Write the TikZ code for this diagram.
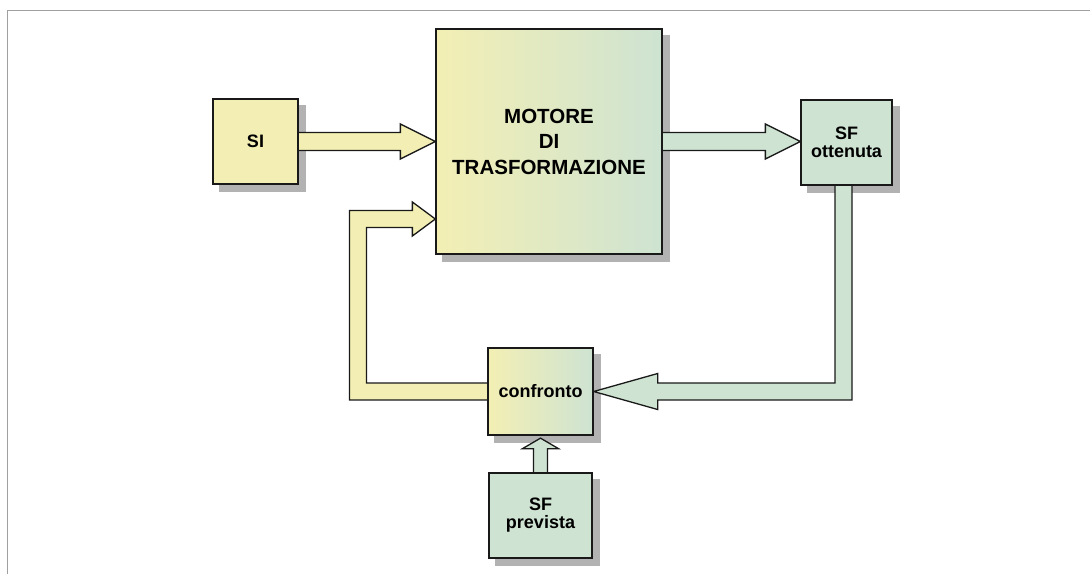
\documentclass[tikz,border=0pt]{standalone}
\usepackage{fontspec}
\setmainfont{Liberation Sans}
\usetikzlibrary{calc}
\definecolor{yelc}{RGB}{243,239,180}
\definecolor{grnc}{RGB}{206,227,210}
\definecolor{shadc}{RGB}{178,178,178}
\definecolor{linec}{RGB}{25,25,25}
\definecolor{framec}{RGB}{160,160,160}
\pgfdeclarelayer{shadowlayer}
\pgfdeclarelayer{arrowlayer}
\pgfsetlayers{shadowlayer,arrowlayer,main}
\tikzset{
  box/.style={draw=linec, line width=1.3pt, inner sep=0pt, align=center,
    font=\bfseries\fontsize{18}{18}\selectfont},
  bigtext/.style={font=\bfseries\fontsize{20.5}{25.5}\selectfont},
  fatY/.style={draw=linec, line width=1.3pt, fill=yelc, line join=miter},
  fatG/.style={draw=linec, line width=1.3pt, fill=grnc, line join=miter},
  grad/.style={shading=axis, left color=yelc, right color=grnc, shading angle=90}
}
\begin{document}
\begin{tikzpicture}[x=1pt,y=-1pt]
\useasboundingbox (0,0) rectangle (1090,574);
\draw[framec, line width=1.5pt] (7.5,574) -- (7.5,10.5) -- (1090,10.5);

\node[box, fill=yelc, minimum width=85pt, minimum height=85pt] (SI) at (255.5,141.5) {SI};
\node[box, bigtext, left color=yelc, right color=grnc, minimum width=226pt, minimum height=225pt] (main) at (549,141.5) {MOTORE\\DI\\TRASFORMAZIONE};
\node[box, fill=grnc, minimum width=91pt, minimum height=85pt] (SFo) at (846.5,142.5) {SF\\ottenuta};
\node[box, left color=yelc, right color=grnc, minimum width=105pt, minimum height=87pt] (conf) at (540.5,391.5) {confronto};
\node[box, fill=grnc, minimum width=103pt, minimum height=85pt] (SFp) at (540.5,515.5) {SF\\prevista};

\begin{pgfonlayer}{shadowlayer}
\foreach \n in {SI,main,SFo,conf,SFp}
  \fill[shadc] ($(\n.south west)+(7,7)$) rectangle ($(\n.north east)+(7,7)$);
\end{pgfonlayer}

\coordinate (t1) at (main.west);
\coordinate (t2) at (SFo.west |- main.east);
\coordinate (ytip) at ($(main.west)+(0,77.5)$);
\coordinate (yc) at (358,391.5);
\coordinate (gc) at (843.5,391.5);
\coordinate (ptip) at ($(conf.south)+(0,2.5)$);

\begin{pgfonlayer}{arrowlayer}
% SI -> motore
\filldraw[fatY] ($(SI.east)+(-1,-9)$) -- ($(t1)+(-35,-9)$) -- ($(t1)+(-35,-17.5)$) -- (t1)
  -- ($(t1)+(-35,17.5)$) -- ($(t1)+(-35,9)$) -- ($(SI.east)+(-1,9)$);
% motore -> SF ottenuta
\filldraw[fatG] ($(main.east)+(-1,-9)$) -- ($(t2)+(-35,-9)$) -- ($(t2)+(-35,-17.5)$) -- (t2)
  -- ($(t2)+(-35,17.5)$) -- ($(t2)+(-35,9)$) -- ($(main.east)+(-1,9)$);
% SF ottenuta -> confronto
\filldraw[fatG] ($(gc |- SFo.south)+(-8.5,-1)$) -- ($(gc)+(-8.5,-8.5)$) -- ($(conf.east)+(64,-8.5)$)
  -- ($(conf.east)+(64,-18)$) -- (conf.east) -- ($(conf.east)+(64,18)$) -- ($(conf.east)+(64,8.5)$)
  -- ($(gc)+(8.5,8.5)$) -- ($(gc |- SFo.south)+(8.5,-1)$);
% confronto -> motore
\filldraw[fatY] ($(conf.west)+(1,8.5)$) -- ($(yc)+(-8.5,8.5)$) -- ($(yc |- ytip)+(-8.5,-8.5)$)
  -- ($(ytip)+(-23,-8.5)$) -- ($(ytip)+(-23,-17)$) -- (ytip) -- ($(ytip)+(-23,17)$)
  -- ($(ytip)+(-23,8.5)$) -- ($(yc |- ytip)+(8.5,8.5)$) -- ($(yc)+(8.5,-8.5)$) -- ($(conf.west)+(1,-8.5)$);
% SF prevista -> confronto
\filldraw[fatG] ($(SFp.north)+(-7,1)$) -- ($(ptip)+(-7,10.5)$) -- ($(ptip)+(-18,10.5)$) -- (ptip)
  -- ($(ptip)+(18,10.5)$) -- ($(ptip)+(7,10.5)$) -- ($(SFp.north)+(7,1)$);
\end{pgfonlayer}
\end{tikzpicture}
\end{document}
